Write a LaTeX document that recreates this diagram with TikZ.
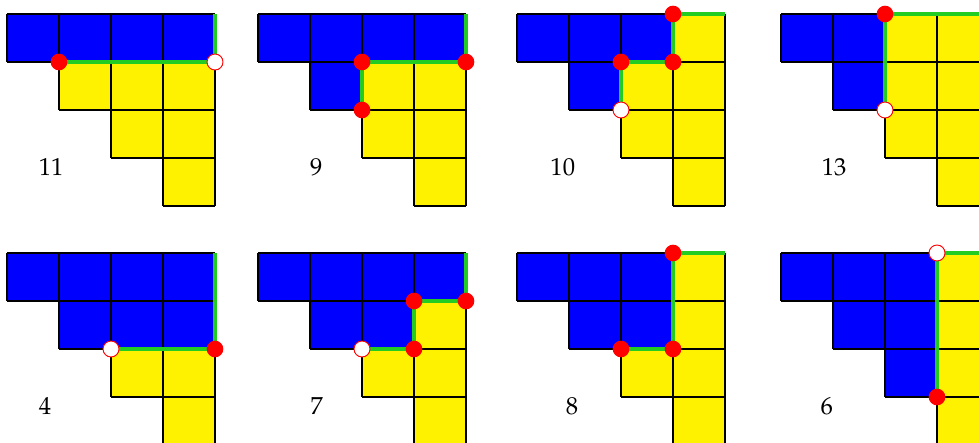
\documentclass[tikz,border=0pt]{standalone}
\usepackage{amsmath,amssymb}
\usepackage[T1]{fontenc}
\usepackage{mathpazo}
\usepackage{tikz}

\definecolor{pathgreen}{RGB}{34,204,34}

\newcommand{\staircase}{%
\fill[yellow] (0,0) -- (4,0) -- (4,4) -- (3,4) -- (3,3) -- (2,3) -- (2,2) -- (1,2) -- (1,1) -- (0,1) -- cycle;}
\newcommand{\stairgrid}{%
\draw[cellline] (0,0) -- (4,0) (0,1) -- (4,1) (1,2) -- (4,2) (2,3) -- (4,3) (3,4) -- (4,4)
  (0,0) -- (0,1) (1,0) -- (1,2) (2,0) -- (2,3) (3,0) -- (3,4) (4,0) -- (4,4);}

\begin{document}
\begin{tikzpicture}[
  cellline/.style={black,line width=1.1pt},
  greenpath/.style={pathgreen,line width=3.3pt},
  reddot/.style={fill=red},
  whitedot/.style={fill=white,draw=red,line width=0.8pt},
  countlabel/.style={font=\fontsize{21}{25}\selectfont}]
\clip (0,0) rectangle (29.37,-13.29);
% first row
\begin{scope}[shift={(0.21,-0.42)},x=1.56cm,y=-1.44cm]
\staircase
\fill[blue] (0,0) -- (4,0) -- (4,1) -- (0,1) -- cycle;
\stairgrid
\draw[greenpath] (4,0) -- (4,1) -- (1,1);
\fill[reddot] (1,1) circle (0.25cm);
\filldraw[whitedot] (4,1) circle (0.24cm);
\node[countlabel] (n11) at (0.85,3.19) {11};
\end{scope}
\begin{scope}[shift={(7.74,-0.42)},x=1.56cm,y=-1.44cm]
\staircase
\fill[blue] (0,0) -- (4,0) -- (4,1) -- (2,1) -- (2,2) -- (1,2) -- (1,1) -- (0,1) -- cycle;
\stairgrid
\draw[greenpath] (4,0) -- (4,1) -- (2,1) -- (2,2);
\fill[reddot] (2,1) circle (0.25cm);
\fill[reddot] (4,1) circle (0.25cm);
\fill[reddot] (2,2) circle (0.25cm);
\node[countlabel] (n9) at (1.12,3.19) {9};
\end{scope}
\begin{scope}[shift={(15.51,-0.42)},x=1.56cm,y=-1.44cm]
\staircase
\fill[blue] (0,0) -- (3,0) -- (3,1) -- (2,1) -- (2,2) -- (1,2) -- (1,1) -- (0,1) -- cycle;
\stairgrid
\draw[greenpath] (4,0) -- (3,0) -- (3,1) -- (2,1) -- (2,2);
\fill[reddot] (3,0) circle (0.25cm);
\fill[reddot] (3,1) circle (0.25cm);
\fill[reddot] (2,1) circle (0.25cm);
\filldraw[whitedot] (2,2) circle (0.24cm);
\node[countlabel] (n10) at (0.88,3.19) {10};
\end{scope}
\begin{scope}[shift={(23.43,-0.42)},x=1.56cm,y=-1.44cm]
\staircase
\fill[blue] (0,0) -- (2,0) -- (2,2) -- (1,2) -- (1,1) -- (0,1) -- cycle;
\stairgrid
\draw[greenpath] (4,0) -- (2,0) -- (2,2);
\fill[reddot] (2,0) circle (0.25cm);
\filldraw[whitedot] (2,2) circle (0.24cm);
\node[countlabel] (n13) at (1.02,3.19) {13};
\end{scope}
% second row
\begin{scope}[shift={(0.21,-7.59)},x=1.56cm,y=-1.44cm]
\staircase
\fill[blue] (0,0) -- (4,0) -- (4,2) -- (1,2) -- (1,1) -- (0,1) -- cycle;
\stairgrid
\draw[greenpath] (4,0) -- (4,2) -- (2,2);
\filldraw[whitedot] (2,2) circle (0.24cm);
\fill[reddot] (4,2) circle (0.25cm);
\node[countlabel] (n4) at (0.73,3.19) {4};
\end{scope}
\begin{scope}[shift={(7.74,-7.59)},x=1.56cm,y=-1.44cm]
\staircase
\fill[blue] (0,0) -- (4,0) -- (4,1) -- (3,1) -- (3,2) -- (1,2) -- (1,1) -- (0,1) -- cycle;
\stairgrid
\draw[greenpath] (4,0) -- (4,1) -- (3,1) -- (3,2) -- (2,2);
\fill[reddot] (3,1) circle (0.25cm);
\fill[reddot] (4,1) circle (0.25cm);
\fill[reddot] (3,2) circle (0.25cm);
\filldraw[whitedot] (2,2) circle (0.24cm);
\node[countlabel] (n7) at (1.13,3.19) {7};
\end{scope}
\begin{scope}[shift={(15.51,-7.59)},x=1.56cm,y=-1.44cm]
\staircase
\fill[blue] (0,0) -- (3,0) -- (3,2) -- (1,2) -- (1,1) -- (0,1) -- cycle;
\stairgrid
\draw[greenpath] (4,0) -- (3,0) -- (3,2) -- (2,2);
\fill[reddot] (3,0) circle (0.25cm);
\fill[reddot] (3,2) circle (0.25cm);
\fill[reddot] (2,2) circle (0.25cm);
\node[countlabel] (n8) at (1.06,3.19) {8};
\end{scope}
\begin{scope}[shift={(23.43,-7.59)},x=1.56cm,y=-1.44cm]
\staircase
\fill[blue] (0,0) -- (3,0) -- (3,3) -- (2,3) -- (2,2) -- (1,2) -- (1,1) -- (0,1) -- cycle;
\stairgrid
\draw[greenpath] (4,0) -- (3,0) -- (3,3);
\filldraw[whitedot] (3,0) circle (0.24cm);
\fill[reddot] (3,3) circle (0.25cm);
\node[countlabel] (n6) at (0.88,3.19) {6};
\end{scope}
\end{tikzpicture}
\end{document}
